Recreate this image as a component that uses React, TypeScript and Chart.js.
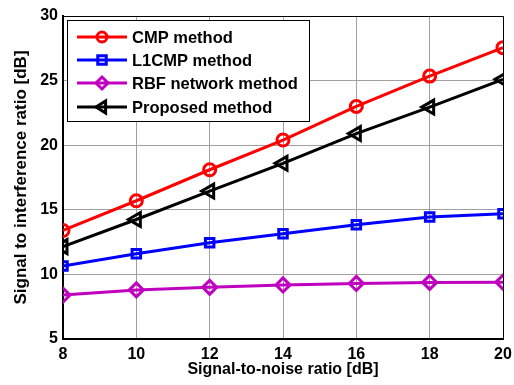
import React, { useEffect, useRef } from "react";
import { Chart, registerables } from "chart.js";

Chart.register(...registerables);

const snr = [8, 10, 12, 14, 16, 18, 20];
const cmp = [13.4, 15.7, 18.1, 20.4, 23.0, 25.35, 27.55];
const l1cmp = [10.65, 11.6, 12.45, 13.15, 13.85, 14.45, 14.7];
const rbf = [8.4, 8.8, 9.0, 9.18, 9.3, 9.38, 9.4];
const proposed = [12.15, 14.25, 16.45, 18.6, 20.9, 22.95, 25.1];
const seriesNames = ["CMP method", "L1CMP method", "RBF network method", "Proposed method"];
const xTitle = "Signal-to-noise ratio [dB]";
const yTitle = "Signal to interference ratio [dB]";

const FONT = '"Liberation Sans", Arial, sans-serif';

type Marker = "circle" | "square" | "diamond" | "triLeft";

function drawMarker(ctx: CanvasRenderingContext2D, kind: Marker, x: number, y: number, r: number) {
  ctx.beginPath();
  if (kind === "circle") {
    ctx.arc(x, y, r, 0, Math.PI * 2);
  } else if (kind === "square") {
    ctx.rect(x - r * 0.85, y - r * 0.85, r * 1.7, r * 1.7);
  } else if (kind === "diamond") {
    ctx.moveTo(x, y - r);
    ctx.lineTo(x + r, y);
    ctx.lineTo(x, y + r);
    ctx.lineTo(x - r, y);
    ctx.closePath();
  } else {
    ctx.moveTo(x - r, y);
    ctx.lineTo(x + r * 0.6, y - r);
    ctx.lineTo(x + r * 0.6, y + r);
    ctx.closePath();
  }
  ctx.stroke();
}

const markers: Marker[] = ["circle", "square", "diamond", "triLeft"];
const colors = ["#ff0000", "#0000ff", "#bf00bf", "#000000"];
const radii = [6, 6, 7, 7];

const frameAndLegend = {
  id: "frameAndLegend",
  afterDraw(chart: any) {
    const { ctx, chartArea } = chart;
    const { left, right, top, bottom } = chartArea;
    ctx.save();
    ctx.strokeStyle = "#000";
    ctx.lineWidth = 1;
    ctx.beginPath();
    ctx.moveTo(left, top + 0.5);
    ctx.lineTo(right + 0.5, top + 0.5);
    ctx.lineTo(right + 0.5, bottom);
    ctx.stroke();

    const lx = left + 4;
    const ly = top + 4;
    const lw = 242;
    const lh = 101;
    ctx.fillStyle = "#fff";
    ctx.fillRect(lx, ly, lw, lh);
    ctx.strokeStyle = "#000";
    ctx.lineWidth = 1;
    ctx.strokeRect(lx + 0.5, ly + 0.5, lw, lh);
    const rowYs = [17, 40, 63, 87];
    ctx.font = `bold 16.5px ${FONT}`;
    ctx.textBaseline = "middle";
    ctx.textAlign = "left";
    for (let i = 0; i < seriesNames.length; i++) {
      const cy = ly + rowYs[i];
      ctx.strokeStyle = colors[i];
      ctx.lineWidth = 3;
      ctx.beginPath();
      ctx.moveTo(lx + 10, cy);
      ctx.lineTo(lx + 60, cy);
      ctx.stroke();
      ctx.lineWidth = 3;
      drawMarker(ctx, markers[i], lx + 35, cy, radii[i] - 1);
      ctx.fillStyle = "#000";
      ctx.fillText(seriesNames[i], lx + 65, cy + 1);
    }
    ctx.restore();
  },
};

function mk(label: string, ys: number[], color: string, style: any, radius: number, rotation = 0) {
  return {
    label,
    data: snr.map((x, i) => ({ x, y: ys[i] })),
    borderColor: color,
    backgroundColor: color,
    borderWidth: 3,
    pointStyle: style,
    pointRadius: radius,
    pointRotation: rotation,
    pointBorderWidth: 3,
    pointBorderColor: color,
    pointBackgroundColor: "rgba(255,255,255,0)",
    tension: 0,
  };
}

export default function App() {
  const ref = useRef<HTMLCanvasElement>(null);
  useEffect(() => {
    if (!ref.current) return;
    const chart = new Chart(ref.current, {
      type: "line",
      data: {
        datasets: [
          mk(seriesNames[0], cmp, colors[0], "circle", 6),
          mk(seriesNames[1], l1cmp, colors[1], "rect", 6),
          mk(seriesNames[2], rbf, colors[2], "rectRot", 7),
          mk(seriesNames[3], proposed, colors[3], "triangle", 8, -90),
        ],
      },
      options: {
        responsive: false,
        animation: false,
        layout: { padding: { top: 16, right: 9, left: 0, bottom: 0 } },
        plugins: { legend: { display: false }, tooltip: { enabled: false } },
        scales: {
          x: {
            type: "linear",
            min: 8,
            max: 20,
            ticks: {
              stepSize: 2,
              padding: 6,
              color: "#000",
              font: { family: FONT, size: 16, weight: "bold" },
            },
            grid: { color: "#a0a0a0", lineWidth: 1, drawTicks: false },
            border: { color: "#000", width: 2 },
            title: {
              display: true,
              text: xTitle,
              color: "#000",
              font: { family: FONT, size: 16, weight: "bold" },
              padding: { top: 0, bottom: 6 },
            },
            afterFit(scale: any) {
              scale.height = 46;
              scale.paddingLeft = 0;
              scale.paddingRight = 0;
            },
          },
          y: {
            type: "linear",
            min: 5,
            max: 30,
            ticks: {
              stepSize: 5,
              padding: 5,
              color: "#000",
              font: { family: FONT, size: 16, weight: "bold" },
            },
            grid: { color: "#a0a0a0", lineWidth: 1, drawTicks: false },
            border: { color: "#000", width: 2 },
            title: {
              display: true,
              text: yTitle,
              color: "#000",
              font: { family: FONT, size: 17, weight: "bold" },
              padding: { top: 11, bottom: 0 },
            },
            afterFit(scale: any) {
              scale.width = 63;
              scale.paddingTop = 0;
              scale.paddingBottom = 0;
            },
          },
        },
      },
      plugins: [frameAndLegend],
    } as any);
    return () => chart.destroy();
  }, []);
  return (
    <div style={{ position: "absolute", left: 0, top: 0, width: 514, height: 385, background: "#fff" }}>
      <canvas ref={ref} width={514} height={385} style={{ display: "block" }} />
    </div>
  );
}
